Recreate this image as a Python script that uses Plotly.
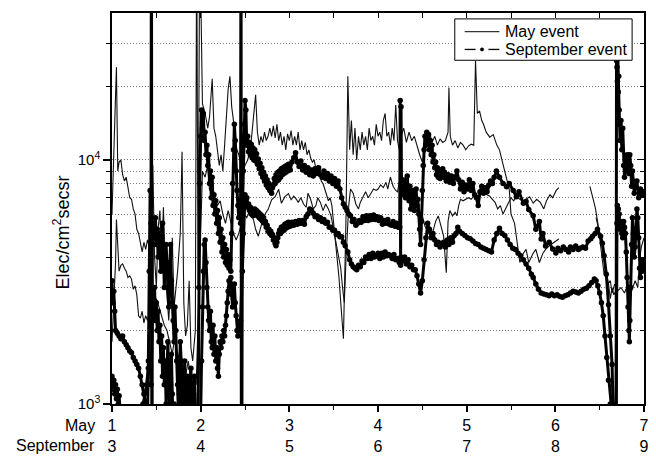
import math
import plotly.graph_objects as go

# ---------------- data (day of month, electron flux) ----------------
may_upper = [
    (1.00, 6000), (1.02, 9500), (1.035, 16000), (1.05, 24000), (1.065, 9000), (1.08, 9800), (1.10, 10000),
    (1.12, 8700), (1.14, 8200), (1.16, 8500), (1.18, 7600), (1.20, 7000), (1.22, 6900), (1.24, 6300),
    (1.26, 6000), (1.28, 5200), (1.30, 5000), (1.32, 4600), (1.34, 4200), (1.36, 4600), (1.38, 4300),
    (1.40, 4700), (1.42, 4400), (1.44, 5500), (1.46, 9500), (1.48, 4000), (1.50, 3000), (1.52, 5200),
    (1.54, 6200), (1.56, 4000), (1.58, 6400), (1.60, 3500), (1.62, 2800), (1.64, 2200), (1.66, 3000),
    (1.68, 4800), (1.70, 2500), (1.74, 3500), (1.77, 5000), (1.79, 10800), (1.81, 2600), (1.83, 1900),
    (1.85, 2100), (1.87, 3200), (1.89, 1700), (1.91, 1500), (1.94, 2000), (1.955, 90000), (1.97, 3000),
    (1.99, 90000), (2.02, 17000), (2.05, 15500), (2.08, 13500), (2.10, 15000), (2.13, 21500), (2.15, 13500),
    (2.17, 12500), (2.19, 11000), (2.21, 9500), (2.23, 10500), (2.25, 9000), (2.27, 11500), (2.29, 15000),
    (2.31, 19500), (2.33, 22000), (2.35, 16500), (2.37, 14500), (2.39, 12000), (2.41, 11000), (2.43, 10500),
    (2.45, 9800), (2.48, 9000), (2.50, 9500), (2.53, 10000), (2.56, 11000), (2.59, 14500), (2.62, 18500),
    (2.64, 13000), (2.66, 11500), (2.68, 12500), (2.70, 11800), (2.72, 13000), (2.74, 12000), (2.76, 12500),
    (2.78, 13500), (2.80, 12500), (2.82, 13800), (2.84, 12300), (2.86, 14000), (2.88, 12000), (2.90, 13000),
    (2.92, 11500), (2.94, 12500), (2.96, 11000), (2.98, 12800), (3.00, 12000), (3.02, 13200), (3.04, 11500),
    (3.06, 12500), (3.08, 11500), (3.10, 13000), (3.12, 11000), (3.14, 12000), (3.16, 11000), (3.18, 11800),
    (3.20, 10500), (3.22, 11000), (3.24, 10200), (3.26, 9800), (3.28, 10000), (3.30, 9200), (3.32, 9500),
    (3.34, 8700), (3.36, 8200), (3.38, 8000), (3.40, 7500), (3.42, 7200), (3.44, 6800), (3.46, 7000),
    (3.48, 6500), (3.50, 5500), (3.52, 4500), (3.54, 3800), (3.56, 3300), (3.58, 2600), (3.61, 1850),
    (3.64, 6000), (3.66, 22000), (3.68, 11000), (3.70, 14500), (3.72, 10500), (3.74, 13500), (3.76, 10000),
    (3.78, 12500), (3.80, 11000), (3.82, 13000), (3.84, 11500), (3.86, 12500), (3.88, 11000), (3.90, 13500),
    (3.92, 12000), (3.94, 12500), (3.96, 11500), (3.98, 14000), (4.00, 12500), (4.02, 13000), (4.04, 12000),
    (4.06, 14500), (4.08, 15500), (4.10, 12500), (4.12, 13000), (4.14, 11500), (4.16, 13500), (4.18, 12000),
    (4.20, 16800), (4.22, 12000), (4.24, 11000), (4.26, 12500), (4.29, 13500), (4.32, 11800), (4.35, 13000),
    (4.38, 12000), (4.41, 12500), (4.44, 11300), (4.47, 10500), (4.50, 9800), (4.52, 10500), (4.55, 12000),
    (4.58, 13000), (4.61, 11800), (4.64, 12500), (4.67, 11500), (4.70, 12200), (4.73, 11800), (4.76, 12000),
    (4.79, 13000), (4.80, 19800), (4.815, 12500), (4.84, 11500), (4.87, 12000), (4.90, 11200), (4.93, 11800),
    (4.96, 11500), (4.99, 11000), (5.02, 11400), (5.05, 11600), (5.08, 11500), (5.10, 25500), (5.12, 15500),
    (5.145, 15900), (5.17, 14500), (5.19, 14000), (5.22, 13000), (5.26, 12400), (5.30, 12700), (5.34, 11500),
    (5.37, 11000), (5.41, 9600), (5.45, 8500), (5.48, 7600), (5.50, 6000), (5.54, 5500), (5.56, 4870),
    (5.58, 4300), (5.60, 3800), (5.64, 4150), (5.67, 4300), (5.70, 3800), (5.75, 4150), (5.78, 4300),
    (5.82, 3800), (5.86, 4150), (5.89, 4300), (5.93, 4450), (5.97, 4550), (6.01, 4650), (6.04, 4740),
    (6.20, None),
    (6.39, 7800), (6.42, 7000), (6.45, 6400), (6.48, 5500), (6.50, 4800), (6.53, 3950), (6.55, 3400),
    (6.57, 3600), (6.59, 3100), (6.62, 3200), (6.64, 2850), (6.67, 3100), (6.70, 2900), (6.74, 3000),
    (6.78, 2850), (6.82, 3100), (6.86, 2900), (6.90, 3200), (6.93, 3000), (6.95, 3900), (6.97, 4400),
    (7.00, 4800),
]

may_lower = [
    (1.00, 1800), (1.02, 2600), (1.04, 3800), (1.05, 5700), (1.065, 4400), (1.08, 3500), (1.10, 3700),
    (1.12, 3750), (1.14, 3600), (1.16, 3500), (1.18, 3300), (1.20, 3350), (1.22, 3250), (1.24, 2950),
    (1.26, 3050), (1.28, 2800), (1.30, 2300), (1.32, 2250), (1.34, 2400), (1.36, 2150), (1.38, 2300),
    (1.40, 2200), (1.42, 2350), (1.44, 2800), (1.46, 2600), (1.50, 2700), (1.53, 2500), (1.56, 2300),
    (1.59, 2100), (1.62, 2000), (1.65, 1800), (1.68, 1600), (1.71, 1900), (1.74, 1500), (1.77, 1700),
    (1.80, 1400), (1.83, 1300), (1.86, 1500), (1.89, 1250), (1.92, 1300), (1.95, 1200), (1.98, 2500),
    (2.00, 5000), (2.02, 9000), (2.05, 8500), (2.08, 9500), (2.10, 7500), (2.13, 8000), (2.16, 7000),
    (2.19, 6500), (2.22, 6800), (2.25, 6000), (2.28, 5500), (2.31, 6200), (2.34, 5500), (2.37, 5000),
    (2.40, 4700), (2.43, 5000), (2.46, 5500), (2.49, 6000), (2.52, 5800), (2.56, 6260), (2.60, 5600),
    (2.62, 5200), (2.65, 4870), (2.69, 5500), (2.73, 6030), (2.76, 6260), (2.80, 6870), (2.84, 7070),
    (2.88, 7580), (2.91, 6650), (2.95, 7070), (2.99, 7280), (3.02, 6870), (3.05, 7100), (3.08, 6900),
    (3.10, 6700), (3.13, 7000), (3.16, 6600), (3.19, 6400), (3.21, 7300), (3.24, 6900), (3.27, 6300),
    (3.30, 6500), (3.32, 7000), (3.35, 6700), (3.38, 6200), (3.41, 6600), (3.44, 6300), (3.47, 5900),
    (3.49, 5400), (3.52, 4800), (3.55, 4200), (3.58, 3600), (3.60, 3000), (3.62, 2600), (3.64, 4000),
    (3.67, 6500), (3.69, 7600), (3.72, 7300), (3.75, 6600), (3.78, 6300), (3.80, 6700), (3.83, 7000),
    (3.86, 7400), (3.89, 7000), (3.92, 7300), (3.95, 7600), (3.98, 7500), (4.00, 7600), (4.03, 7900),
    (4.06, 7700), (4.09, 8100), (4.11, 7600), (4.14, 8500), (4.17, 7800), (4.20, 7500), (4.22, 7400),
    (4.25, 8500), (4.28, 8200), (4.31, 7900), (4.33, 7600), (4.36, 7900), (4.39, 7500), (4.42, 7000),
    (4.44, 6300), (4.47, 5500), (4.50, 5900), (4.53, 5350), (4.56, 5100), (4.59, 4870), (4.62, 5100),
    (4.65, 5600), (4.68, 5900), (4.71, 5300), (4.74, 4870), (4.77, 3450), (4.79, 5600), (4.81, 6200),
    (4.84, 5900), (4.87, 6100), (4.89, 5900), (4.91, 6500), (4.93, 6900), (4.96, 6800), (4.99, 6900),
    (5.02, 7000), (5.05, 6900), (5.08, 7100), (5.11, 7200), (5.14, 7100), (5.17, 7300), (5.20, 7400),
    (5.23, 7200), (5.26, 7100), (5.29, 6900), (5.32, 6700), (5.35, 6300), (5.38, 6500), (5.41, 6000),
    (5.44, 6300), (5.47, 6700), (5.50, 7000), (5.53, 6800), (5.56, 7070), (5.60, 6900), (5.64, 6750),
    (5.67, 6900), (5.71, 7070), (5.75, 6650), (5.79, 6900), (5.83, 6700), (5.87, 6300), (5.90, 6800),
    (5.94, 7200), (5.97, 7000), (6.01, 7500), (6.04, 7700),
    (6.20, None),
    (6.46, 5800), (6.49, 5200), (6.52, 4600), (6.55, 4000), (6.57, 3500), (6.60, 3100), (6.62, 2700),
    (6.64, 3000), (6.66, 2800), (6.68, 2900),
]

sep_upper = [
    (1.00, 3200), (1.01, 2600), (1.02, 2900), (1.03, 2400), (1.04, 2000), (1.06, 1950), (1.08, 1900),
    (1.10, 1850), (1.12, 1900), (1.14, 1800), (1.16, 1750), (1.18, 1700), (1.20, 1650), (1.22, 1620),
    (1.24, 1550), (1.26, 1500), (1.28, 1450), (1.30, 1400), (1.32, 1300), (1.34, 1200), (1.36, 1100),
    (1.38, 1000), (1.39, 900), (1.40, 850), (1.41, 1500), (1.42, 3500), (1.43, 7500), (1.44, 5500),
    (1.445, 200000), (1.45, 100), (1.455, 4500), (1.47, 5500), (1.48, 4800), (1.49, 5800), (1.50, 4500),
    (1.51, 5200), (1.52, 4000), (1.53, 5000), (1.54, 4500), (1.55, 3500), (1.56, 4800), (1.57, 5500),
    (1.58, 4200), (1.59, 3000), (1.60, 4000), (1.61, 4500), (1.62, 3800), (1.63, 3000), (1.64, 2500),
    (1.65, 3300), (1.66, 4500), (1.67, 3200), (1.68, 2600), (1.69, 2200), (1.70, 1800), (1.71, 2500),
    (1.72, 2000), (1.73, 1500), (1.74, 1200), (1.75, 900), (1.76, 1300), (1.77, 1800), (1.78, 1500),
    (1.79, 1000), (1.80, 800), (1.81, 1200), (1.82, 1500), (1.83, 1100), (1.84, 900), (1.85, 1300),
    (1.86, 1000), (1.87, 800), (1.88, 1200), (1.89, 1400), (1.90, 1000), (1.91, 800), (1.92, 1100),
    (1.93, 1300), (1.94, 900), (1.95, 700), (1.97, 800), (1.98, 3000), (1.99, 8000), (2.00, 12500),
    (2.01, 16000), (2.02, 13500), (2.03, 15500), (2.04, 12000), (2.05, 13000), (2.06, 10500), (2.07, 11500),
    (2.08, 9500), (2.09, 10500), (2.10, 8000), (2.11, 9000), (2.12, 7000), (2.13, 8500), (2.14, 6500),
    (2.15, 7200), (2.16, 6000), (2.17, 6800), (2.18, 5500), (2.19, 6200), (2.20, 5000), (2.21, 5800),
    (2.22, 4600), (2.23, 5200), (2.24, 4200), (2.25, 4800), (2.26, 4000), (2.27, 4500), (2.28, 3800),
    (2.29, 4300), (2.30, 3700), (2.31, 4100), (2.32, 3600), (2.33, 3900), (2.34, 3500), (2.35, 5000),
    (2.36, 8000), (2.37, 11000), (2.38, 14000), (2.39, 12000), (2.40, 9000), (2.41, 7500), (2.42, 6500),
    (2.43, 5800), (2.44, 6800), (2.45, 5500), (2.455, 200000), (2.46, 100), (2.47, 6000), (2.48, 9000),
    (2.49, 14000), (2.50, 17500), (2.51, 16000), (2.52, 11500), (2.53, 12500), (2.54, 10800), (2.55, 11800),
    (2.56, 10500), (2.57, 11600), (2.58, 10200), (2.59, 11200), (2.60, 10000), (2.61, 11000), (2.62, 9900),
    (2.63, 10600), (2.64, 9600), (2.65, 10100), (2.66, 9200), (2.67, 9700), (2.68, 8800), (2.69, 9300),
    (2.70, 8500), (2.71, 8900), (2.72, 8200), (2.73, 8600), (2.74, 7900), (2.75, 8300), (2.76, 7700),
    (2.77, 8000), (2.78, 7500), (2.79, 7800), (2.80, 7300), (2.81, 7700), (2.82, 7900), (2.83, 8400),
    (2.84, 8000), (2.85, 8700), (2.86, 8200), (2.87, 8900), (2.88, 8300), (2.89, 9000), (2.90, 8500),
    (2.91, 9200), (2.92, 8700), (2.93, 9300), (2.94, 8800), (2.95, 9400), (2.96, 8900), (2.97, 9500),
    (2.98, 9000), (2.99, 9600), (3.01, 9100), (3.03, 9800), (3.05, 10200), (3.07, 10700), (3.09, 9800),
    (3.11, 9400), (3.13, 9900), (3.15, 9100), (3.17, 9500), (3.19, 8900), (3.21, 9300), (3.23, 8700),
    (3.25, 9100), (3.27, 8600), (3.29, 9200), (3.31, 8800), (3.33, 9300), (3.35, 8700), (3.37, 8500),
    (3.39, 9000), (3.41, 8400), (3.43, 8800), (3.45, 8200), (3.47, 8600), (3.49, 8000), (3.51, 8400),
    (3.53, 7800), (3.55, 8200), (3.57, 7600), (3.59, 7000), (3.61, 6600), (3.63, 6400), (3.65, 6200),
    (3.67, 6000), (3.69, 5900), (3.71, 5600), (3.73, 5700), (3.75, 5400), (3.77, 5500), (3.79, 5650),
    (3.81, 5550), (3.83, 5850), (3.85, 5650), (3.87, 5900), (3.89, 5650), (3.91, 5900), (3.93, 5700),
    (3.95, 5950), (3.97, 5700), (3.99, 5850), (4.01, 5650), (4.03, 5800), (4.05, 5450), (4.07, 5650),
    (4.09, 5500), (4.11, 5700), (4.13, 5450), (4.15, 5400), (4.17, 5600), (4.19, 5350), (4.21, 5500),
    (4.23, 5300), (4.245, 5300), (4.25, 17500), (4.255, 3700), (4.26, 16500), (4.265, 8000), (4.28, 8300),
    (4.29, 7200), (4.30, 8000), (4.31, 7000), (4.32, 8300), (4.33, 8600), (4.34, 7400), (4.35, 6800),
    (4.36, 7800), (4.37, 6300), (4.38, 7200), (4.39, 6600), (4.40, 7500), (4.41, 6200), (4.42, 7000),
    (4.43, 7600), (4.44, 6500), (4.45, 6900), (4.46, 6000), (4.47, 5200), (4.48, 4500), (4.49, 5600),
    (4.50, 7500), (4.51, 9500), (4.52, 11000), (4.53, 12500), (4.54, 11500), (4.55, 13000), (4.56, 11800),
    (4.57, 12700), (4.58, 11000), (4.59, 12000), (4.60, 10500), (4.61, 11500), (4.62, 9800), (4.63, 10500),
    (4.64, 9300), (4.65, 9800), (4.66, 8700), (4.67, 9300), (4.68, 8500), (4.69, 9000), (4.70, 8400),
    (4.71, 9100), (4.72, 8600), (4.73, 9200), (4.74, 8500), (4.75, 8900), (4.77, 8200), (4.79, 8700),
    (4.81, 8100), (4.83, 8600), (4.85, 8000), (4.87, 8500), (4.89, 9000), (4.91, 8300), (4.93, 7600),
    (4.95, 8100), (4.97, 7400), (4.99, 7900), (5.01, 7600), (5.03, 8300), (5.05, 7500), (5.07, 8000),
    (5.09, 7200), (5.11, 7000), (5.13, 6500), (5.15, 7400), (5.17, 7800), (5.19, 7300), (5.21, 7700),
    (5.23, 7400), (5.25, 7900), (5.27, 8200), (5.29, 8000), (5.31, 8500), (5.335, 9000), (5.37, 8500),
    (5.41, 8000), (5.45, 7760), (5.48, 8000), (5.525, 7500), (5.56, 7070), (5.59, 7400), (5.64, 6650),
    (5.67, 6750), (5.70, 6260), (5.75, 5900), (5.78, 5200), (5.82, 5600), (5.84, 4740), (5.86, 5000),
    (5.89, 4440), (5.93, 4600), (5.97, 4320), (6.006, 4160), (6.03, 4350), (6.06, 4250), (6.09, 4400),
    (6.12, 4300), (6.15, 4200), (6.17, 4400), (6.20, 4300), (6.23, 4440), (6.26, 4300), (6.28, 4350),
    (6.31, 4400), (6.34, 4350), (6.37, 4650), (6.40, 4750), (6.42, 4870), (6.45, 5000), (6.475, 5200),
    (6.51, 4870), (6.53, 4560), (6.55, 4050), (6.575, 3400), (6.60, 2550), (6.62, 1900), (6.64, 1450),
    (6.65, 1000), (6.67, 700), (6.685, 600), (6.69, 25500), (6.695, 24000), (6.70, 21000), (6.705, 26000),
    (6.71, 19000), (6.715, 22000), (6.72, 16000), (6.725, 14000), (6.73, 12000), (6.74, 14500), (6.75, 11000),
    (6.76, 13500), (6.77, 9500), (6.78, 8500), (6.79, 10000), (6.80, 9000), (6.81, 10500), (6.82, 9000),
    (6.83, 8800), (6.84, 10500), (6.85, 9500), (6.86, 7800), (6.87, 9000), (6.88, 8200), (6.89, 7300),
    (6.90, 7800), (6.92, 8200), (6.94, 7000), (6.96, 7600), (6.98, 7200), (7.00, 7400),
]

sep_lower = [
    (1.00, 1300), (1.01, 1150), (1.02, 1250), (1.03, 1100), (1.04, 1200), (1.05, 1050), (1.06, 1150),
    (1.07, 1000), (1.08, 1080), (1.09, 950), (1.10, 850), (1.15, 700), (1.20, 650), (1.25, 700),
    (1.30, 800), (1.33, 900), (1.35, 1000), (1.37, 1100), (1.39, 1200), (1.41, 1400), (1.43, 1600),
    (1.44, 1200), (1.455, 2500), (1.46, 2800), (1.47, 2400), (1.48, 3000), (1.49, 2200), (1.50, 2600),
    (1.51, 2000), (1.52, 2400), (1.53, 1800), (1.54, 2100), (1.55, 1500), (1.56, 1900), (1.57, 1300),
    (1.58, 1700), (1.59, 1200), (1.60, 1500), (1.61, 1000), (1.62, 1400), (1.63, 1800), (1.64, 1300),
    (1.65, 900), (1.66, 1200), (1.67, 1600), (1.68, 1100), (1.69, 800), (1.70, 1000), (1.72, 700),
    (1.74, 900), (1.76, 1100), (1.78, 800), (1.80, 1000), (1.82, 700), (1.84, 900), (1.86, 1200),
    (1.88, 800), (1.90, 1100), (1.92, 900), (1.94, 700), (1.96, 600), (1.98, 600), (2.00, 900),
    (2.01, 1500), (2.02, 2500), (2.03, 3500), (2.04, 4500), (2.05, 4700), (2.06, 3800), (2.07, 3000),
    (2.08, 2500), (2.09, 2200), (2.10, 2000), (2.11, 2400), (2.12, 1800), (2.13, 1700), (2.14, 2100),
    (2.15, 1600), (2.16, 1900), (2.17, 1500), (2.18, 1700), (2.19, 1400), (2.20, 1300), (2.21, 1600),
    (2.22, 1800), (2.23, 1700), (2.24, 1900), (2.25, 1800), (2.26, 2000), (2.27, 1900), (2.28, 2100),
    (2.29, 2300), (2.30, 2600), (2.31, 2900), (2.32, 3200), (2.33, 3000), (2.34, 3300), (2.35, 2800),
    (2.36, 2500), (2.37, 2700), (2.38, 3100), (2.39, 2600), (2.40, 2300), (2.41, 2000), (2.42, 1900),
    (2.43, 2100), (2.44, 2000), (2.45, 2200), (2.47, 3500), (2.48, 5000), (2.49, 6500), (2.50, 7200),
    (2.51, 6800), (2.52, 7000), (2.53, 6400), (2.54, 6600), (2.55, 6200), (2.56, 6400), (2.57, 6000),
    (2.58, 6300), (2.59, 5900), (2.60, 6100), (2.61, 6300), (2.62, 6000), (2.63, 6200), (2.64, 5900),
    (2.65, 6100), (2.66, 5800), (2.67, 6000), (2.68, 5700), (2.69, 5900), (2.70, 5600), (2.71, 5800),
    (2.72, 5500), (2.73, 5600), (2.74, 5300), (2.75, 5400), (2.76, 5100), (2.77, 5200), (2.78, 5000),
    (2.79, 5100), (2.80, 4900), (2.81, 4950), (2.82, 4700), (2.83, 4800), (2.84, 4550), (2.85, 4450),
    (2.86, 4600), (2.87, 4800), (2.88, 5000), (2.89, 5150), (2.90, 5000), (2.91, 5300), (2.92, 5100),
    (2.93, 5350), (2.94, 5150), (2.95, 5450), (2.96, 5250), (2.97, 5500), (2.98, 5300), (2.99, 5550),
    (3.01, 5350), (3.03, 5550), (3.05, 5400), (3.07, 5600), (3.09, 5450), (3.11, 5650), (3.13, 5500),
    (3.15, 5650), (3.17, 5450), (3.19, 5850), (3.21, 6000), (3.23, 6300), (3.25, 6200), (3.27, 6050),
    (3.29, 5850), (3.31, 5900), (3.33, 5700), (3.35, 5800), (3.37, 5600), (3.39, 5700), (3.41, 5500),
    (3.43, 5550), (3.45, 5300), (3.47, 5300), (3.49, 5150), (3.51, 5150), (3.53, 4950), (3.55, 5000),
    (3.57, 4850), (3.59, 4850), (3.61, 4600), (3.63, 4450), (3.66, 4200), (3.68, 3900), (3.70, 3750),
    (3.72, 3650), (3.74, 3600), (3.76, 3550), (3.78, 3700), (3.80, 3650), (3.82, 3850), (3.84, 3800),
    (3.86, 4000), (3.88, 3950), (3.90, 4100), (3.92, 3950), (3.94, 4150), (3.96, 4000), (3.98, 4050),
    (4.00, 4150), (4.02, 3950), (4.04, 4150), (4.06, 4000), (4.08, 4200), (4.10, 4050), (4.12, 4100),
    (4.14, 4050), (4.16, 3950), (4.18, 4100), (4.20, 3900), (4.22, 3950), (4.24, 3800), (4.26, 4000),
    (4.28, 3850), (4.30, 4000), (4.32, 3750), (4.34, 3900), (4.36, 3650), (4.38, 3700), (4.40, 3550),
    (4.42, 3550), (4.44, 3350), (4.46, 3100), (4.48, 2850), (4.50, 3200), (4.52, 3900), (4.54, 4800),
    (4.56, 5500), (4.58, 5200), (4.60, 4800), (4.62, 5000), (4.64, 4700), (4.66, 4500), (4.68, 4600),
    (4.70, 4400), (4.72, 4500), (4.74, 4600), (4.76, 4400), (4.78, 4700), (4.80, 4500), (4.82, 4800),
    (4.84, 4600), (4.86, 4900), (4.88, 5000), (4.90, 5300), (4.92, 5100), (4.95, 5000), (4.98, 4900),
    (5.01, 4800), (5.04, 4750), (5.07, 4650), (5.10, 4550), (5.13, 4500), (5.16, 4400), (5.19, 4350),
    (5.22, 4300), (5.25, 4250), (5.28, 4200), (5.31, 4700), (5.34, 5000), (5.37, 5250), (5.40, 5000),
    (5.43, 4900), (5.46, 4700), (5.49, 4500), (5.52, 4350), (5.55, 4300), (5.58, 4150), (5.61, 4050),
    (5.64, 3900), (5.67, 3750), (5.70, 3600), (5.73, 3400), (5.75, 3300), (5.78, 3100), (5.81, 2950),
    (5.84, 2850), (5.87, 2820), (5.90, 2800), (5.93, 2780), (5.96, 2820), (5.99, 2780), (6.02, 2800),
    (6.05, 2760), (6.08, 2740), (6.11, 2780), (6.14, 2800), (6.17, 2850), (6.20, 2900), (6.23, 2880),
    (6.26, 2850), (6.29, 2900), (6.32, 2950), (6.35, 2980), (6.38, 3050), (6.41, 3150), (6.44, 3250),
    (6.46, 3200), (6.48, 3050), (6.50, 2850), (6.52, 2600), (6.54, 2300), (6.56, 1900), (6.58, 1550),
    (6.60, 1250), (6.62, 1000), (6.64, 800), (6.66, 650), (6.685, 600), (6.695, 5500), (6.70, 6500),
    (6.705, 5800), (6.71, 6300), (6.715, 5500), (6.72, 6000), (6.73, 5200), (6.74, 5600), (6.75, 5000),
    (6.76, 4800), (6.77, 5600), (6.78, 5300), (6.79, 5000), (6.80, 4200), (6.81, 3300), (6.82, 2500),
    (6.83, 2000), (6.835, 1800), (6.84, 2200), (6.85, 3000), (6.86, 4500), (6.87, 5800), (6.88, 5000),
    (6.89, 4000), (6.90, 4400), (6.91, 5200), (6.92, 6300), (6.93, 5800), (6.94, 4800), (6.95, 3600),
    (6.96, 3300), (6.97, 3900), (6.98, 3500), (6.99, 3700), (7.00, 3900),
]

day_ticks = [1, 2, 3, 4, 5, 6, 7]
may_days = ["1", "2", "3", "4", "5", "6", "7"]
sep_days = ["3", "4", "5", "6", "7", "8", "9"]
half_ticks = [1.5, 2.5, 3.5, 4.5, 5.5, 6.5]
flux_major = [1000, 10000]
flux_major_text = ["10<sup>3</sup>", "10<sup>4</sup>"]
flux_minor = [2000, 3000, 4000, 5000, 6000, 7000, 8000, 9000, 20000, 30000]
series_names = ["May event", "September event"]

FONT = "Liberation Sans, Arial, sans-serif"
GRID = "#7a7a7a"

# plot-area geometry (pixels) used only to place the hand-drawn legend box
W, H = 656, 462
ML, MR, MT, MB = 112, 7, 13, 52
PW, PH = W - ML - MR, H - MT - MB


def px(xp):
    return (xp - ML) / PW


def py(yp):
    return (H - MB - yp) / PH


def split(pairs):
    return [p[0] for p in pairs], [p[1] for p in pairs]


fig = go.Figure()

for pairs in (may_upper, may_lower):
    x, y = split(pairs)
    fig.add_trace(go.Scatter(x=x, y=y, mode="lines", showlegend=False, name=series_names[0],
                             line=dict(color="#111111", width=1.1), hoverinfo="skip"))

for pairs in (sep_upper, sep_lower):
    x, y = split(pairs)
    fig.add_trace(go.Scatter(x=x, y=y, mode="lines+markers", showlegend=False, name=series_names[1],
                             line=dict(color="#000000", width=3),
                             marker=dict(color="#000000", size=5.5, symbol="circle"),
                             hoverinfo="skip"))

# companion axes for top / right inward ticks
fig.add_trace(go.Scatter(x=[None], y=[None], xaxis="x2", yaxis="y2", showlegend=False,
                         hoverinfo="skip"))

yr = [3, math.log10(40000)]

# legend drawn as a box with samples
row1, row2 = 32, 50
shapes = [
    dict(type="rect", xref="paper", yref="paper", x0=px(458), x1=px(637), y0=py(61), y1=py(19),
         line=dict(color="black", width=1), fillcolor="white", layer="above"),
    dict(type="line", xref="paper", yref="paper", x0=px(468), x1=px(503), y0=py(row1), y1=py(row1),
         line=dict(color="black", width=1), layer="above"),
    dict(type="line", xref="paper", yref="paper", x0=px(468), x1=px(479), y0=py(row2), y1=py(row2),
         line=dict(color="black", width=1.3), layer="above"),
    dict(type="line", xref="paper", yref="paper", x0=px(492), x1=px(503), y0=py(row2), y1=py(row2),
         line=dict(color="black", width=1.3), layer="above"),
    dict(type="circle", xref="paper", yref="paper", x0=px(483.8), x1=px(487.2),
         y0=py(row2 + 1.7), y1=py(row2 - 1.7),
         line=dict(color="black", width=0.5), fillcolor="black", layer="above"),
]

fig.update_layout(
    width=W, height=H,
    margin=dict(l=ML, r=MR, t=MT, b=MB),
    paper_bgcolor="white", plot_bgcolor="white",
    font=dict(family=FONT, size=16, color="black"),
    showlegend=False,
    xaxis=dict(range=[1, 7], showline=True, linecolor="black", linewidth=1.5,
               ticks="outside", ticklen=6, tickwidth=1.5, tickcolor="black",
               tickmode="array", tickvals=day_ticks,
               ticktext=[a + "<br>" + b for a, b in zip(may_days, sep_days)],
               tickfont=dict(size=16), showgrid=False, zeroline=False,
               minor=dict(tickmode="array", tickvals=half_ticks, ticks="outside",
                          ticklen=4, tickwidth=1.2, tickcolor="black", showgrid=False)),
    yaxis=dict(type="log", range=yr, showline=True, linecolor="black", linewidth=1.5,
               ticks="outside", ticklen=7, tickwidth=1.5, tickcolor="black",
               tickmode="array", tickvals=flux_major, ticktext=flux_major_text,
               tickfont=dict(size=15), showgrid=True, gridcolor=GRID,
               griddash="1px,2px", gridwidth=1, zeroline=False,
               minor=dict(tickmode="array", tickvals=flux_minor, ticks="outside",
                          ticklen=4, tickwidth=1.2, tickcolor="black", showgrid=True,
                          gridcolor=GRID, griddash="1px,2px", gridwidth=1)),
    xaxis2=dict(overlaying="x", side="top", anchor="y", range=[1, 7], showline=True,
                linecolor="black", linewidth=1.5, ticks="inside", ticklen=5, tickwidth=1.2,
                tickcolor="black", tickmode="array", tickvals=day_ticks,
                showticklabels=False, showgrid=False, zeroline=False,
                minor=dict(tickmode="array", tickvals=half_ticks, ticks="inside",
                           ticklen=5, tickwidth=1.2, tickcolor="black", showgrid=False)),
    yaxis2=dict(overlaying="y", side="right", anchor="x", type="log", range=yr,
                showline=True, linecolor="black", linewidth=1.5, ticks="inside",
                ticklen=7, tickwidth=1.2, tickcolor="black", tickmode="array",
                tickvals=flux_major, showticklabels=False, showgrid=False, zeroline=False,
                minor=dict(tickmode="array", tickvals=flux_minor, ticks="inside",
                           ticklen=4, tickwidth=1.2, tickcolor="black", showgrid=False)),
    shapes=shapes,
    annotations=[
        dict(text="Elec/cm<sup>2</sup>secsr", xref="paper", yref="paper",
             x=px(62), y=0.44, textangle=-90, showarrow=False,
             xanchor="center", yanchor="middle", font=dict(size=18, family=FONT)),
        dict(text="May", xref="paper", yref="paper", x=px(97), y=py(432),
             xanchor="right", yanchor="middle", showarrow=False, font=dict(size=16, family=FONT)),
        dict(text="September", xref="paper", yref="paper", x=px(97), y=py(452),
             xanchor="right", yanchor="middle", showarrow=False, font=dict(size=16, family=FONT)),
        dict(text=series_names[0], xref="paper", yref="paper", x=px(507), y=py(row1),
             xanchor="left", yanchor="middle", showarrow=False, font=dict(size=16, family=FONT)),
        dict(text=series_names[1], xref="paper", yref="paper", x=px(507), y=py(row2),
             xanchor="left", yanchor="middle", showarrow=False, font=dict(size=16, family=FONT)),
    ],
)

fig.write_html("out.html", config={"displayModeBar": False})
